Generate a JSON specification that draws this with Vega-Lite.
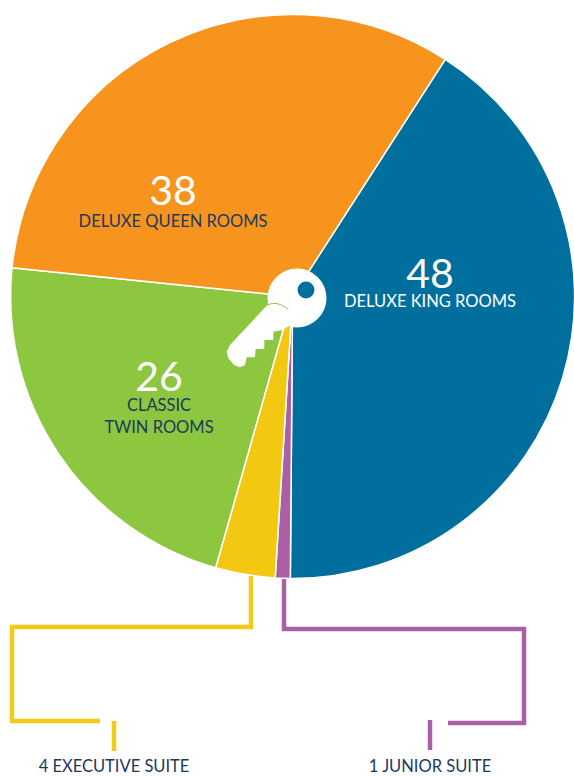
{
"$schema":"https://vega.github.io/schema/vega-lite/v6.json",
"width":574,"height":777,"padding":0,"autosize":{"type":"none"},
"background":"white",
"config":{"view":{"stroke":null},"text":{"font":"Lato"}},
"datasets":{
"rooms":[
{"room":"Deluxe King Rooms","count":48,"rank":1},
{"room":"Junior Suite","count":1,"rank":2},
{"room":"Executive Suite","count":4,"rank":3},
{"room":"Classic Twin Rooms","count":26,"rank":4},
{"room":"Deluxe Queen Rooms","count":38,"rank":5}
],
"leaders":[
{"series":"exec1","seq":1,"px":251,"py":575},{"series":"exec1","seq":2,"px":251,"py":627},{"series":"exec1","seq":3,"px":12,"py":627},{"series":"exec1","seq":4,"px":12,"py":721},{"series":"exec1","seq":5,"px":100,"py":721},
{"series":"exec2","seq":1,"px":114,"py":721},{"series":"exec2","seq":2,"px":114,"py":751},
{"series":"jun1","seq":1,"px":284,"py":578},{"series":"jun1","seq":2,"px":284,"py":629},{"series":"jun1","seq":3,"px":524,"py":629},{"series":"jun1","seq":4,"px":524,"py":723},{"series":"jun1","seq":5,"px":448,"py":723},
{"series":"jun2","seq":1,"px":430,"py":720},{"series":"jun2","seq":2,"px":430,"py":750}
],
"labels":[
{"t":"48","px":430,"py":288,"kind":"num","c":"w"},
{"t":"DELUXE KING ROOMS","px":430,"py":307,"kind":"lab","c":"w"},
{"t":"38","px":173,"py":205,"kind":"num","c":"w"},
{"t":"DELUXE QUEEN ROOMS","px":173,"py":227,"kind":"lab","c":"n"},
{"t":"26","px":159,"py":391,"kind":"num","c":"w"},
{"t":"CLASSIC","px":159,"py":411,"kind":"lab","c":"n"},
{"t":"TWIN ROOMS","px":159,"py":433,"kind":"lab","c":"n"},
{"t":"4 EXECUTIVE SUITE","px":114,"py":772,"kind":"lab","c":"n"},
{"t":"1 JUNIOR SUITE","px":430,"py":772,"kind":"lab","c":"n"}
]
},
"encoding":{},
"layer":[
{"data":{"name":"leaders"},
 "mark":{"type":"line","strokeWidth":4.5,"strokeCap":"butt","strokeJoin":"miter","clip":false},
 "encoding":{
  "x":{"field":"px","type":"quantitative","scale":{"domain":[0,574],"range":[0,574]},"axis":null},
  "y":{"field":"py","type":"quantitative","scale":{"domain":[0,777],"range":[0,777]},"axis":null},
  "detail":{"field":"series"},
  "order":{"field":"seq","type":"ordinal"},
  "color":{"field":"series","type":"nominal","legend":null,"scale":{"domain":["exec1","exec2","jun1","jun2"],"range":["#f4c918","#f4c918","#ab5fa6","#ab5fa6"]}}
 }},
{"data":{"name":"rooms"},
 "mark":{"type":"arc","outerRadius":282,"stroke":"white","strokeWidth":1.5},
 "encoding":{
  "x":{"datum":292.6,"type":"quantitative","scale":{"domain":[0,574],"range":[0,574]},"axis":null},
  "y":{"datum":296.5,"type":"quantitative","scale":{"domain":[0,777],"range":[0,777]},"axis":null},
  "theta":{"field":"count","type":"quantitative","stack":true,"scale":{"range":[0.572,6.855]}},
  "order":{"field":"rank","type":"quantitative"},
  "color":{"field":"room","type":"nominal","legend":null,"scale":{"domain":["Deluxe King Rooms","Junior Suite","Executive Suite","Classic Twin Rooms","Deluxe Queen Rooms"],"range":["#006f9e","#ab5fa6","#f2c813","#8dc63f","#f7941e"]}}
 }},
{"data":{"values":[{"part":"head"}]},
 "mark":{"type":"point","shape":"circle","filled":true,"fill":"white","opacity":1,"size":3481,"strokeWidth":0},
 "encoding":{
  "x":{"datum":297,"type":"quantitative","scale":{"domain":[0,574],"range":[0,574]},"axis":null},
  "y":{"datum":298,"type":"quantitative","scale":{"domain":[0,777],"range":[0,777]},"axis":null}
 }},
{"data":{"values":[{"part":"hole"}]},
 "mark":{"type":"point","shape":"circle","filled":true,"fill":"#006f9e","opacity":1,"size":285,"strokeWidth":0},
 "encoding":{
  "x":{"datum":306,"type":"quantitative","scale":{"domain":[0,574],"range":[0,574]},"axis":null},
  "y":{"datum":290,"type":"quantitative","scale":{"domain":[0,777],"range":[0,777]},"axis":null}
 }},
{"data":{"values":[{"part":"shaft"}]},
 "mark":{"type":"point","filled":true,"fill":"white","opacity":1,"size":1111,"strokeWidth":0,
  "shape":"M1,-1.94 L0.44,-1.8 L-1.8,0.6 L-2,1 L-1.9,1.4 L-1.56,1.8 L-1.2,1.94 L-0.9,1.8 L-0.8,1.34 L-0.3,1.34 L-0.26,0.84 L0.26,0.84 L0.26,0.3 L0.8,0.3 L0.8,-0.2 L1.36,-0.3 L1.9,-0.66 L1.9,-1.2 L1.7,-1.54 L1.3,-1.86 Z"},
 "encoding":{
  "x":{"datum":260,"type":"quantitative","scale":{"domain":[0,574],"range":[0,574]},"axis":null},
  "y":{"datum":335,"type":"quantitative","scale":{"domain":[0,777],"range":[0,777]},"axis":null}
 }},
{"data":{"values":[{"part":"seam"}]},
 "mark":{"type":"point","filled":false,"fill":null,"stroke":"#8dc63f","opacity":1,"size":1111,"strokeWidth":1,
  "shape":"M0.44,-1.8 Q1,-2.1 1.7,-1.54"},
 "encoding":{
  "x":{"datum":260,"type":"quantitative","scale":{"domain":[0,574],"range":[0,574]},"axis":null},
  "y":{"datum":335,"type":"quantitative","scale":{"domain":[0,777],"range":[0,777]},"axis":null}
 }},
{"data":{"name":"labels"},
 "transform":[{"filter":"datum.kind==='num'"}],
 "mark":{"type":"text","font":"Lato","fontSize":41,"align":"center","baseline":"alphabetic"},
 "encoding":{
  "x":{"field":"px","type":"quantitative","scale":{"domain":[0,574],"range":[0,574]},"axis":null},
  "y":{"field":"py","type":"quantitative","scale":{"domain":[0,777],"range":[0,777]},"axis":null},
  "text":{"field":"t"},
  "color":{"field":"c","type":"nominal","legend":null,"scale":{"domain":["w","n"],"range":["#ffffff","#1c3a5e"]}}
 }},
{"data":{"name":"labels"},
 "transform":[{"filter":"datum.kind==='lab'"}],
 "mark":{"type":"text","font":"Lato","fontSize":16.5,"align":"center","baseline":"alphabetic"},
 "encoding":{
  "x":{"field":"px","type":"quantitative","scale":{"domain":[0,574],"range":[0,574]},"axis":null},
  "y":{"field":"py","type":"quantitative","scale":{"domain":[0,777],"range":[0,777]},"axis":null},
  "text":{"field":"t"},
  "color":{"field":"c","type":"nominal","legend":null,"scale":{"domain":["w","n"],"range":["#ffffff","#1c3a5e"]}}
 }}
],
"resolve":{"scale":{"color":"independent"}}
}
